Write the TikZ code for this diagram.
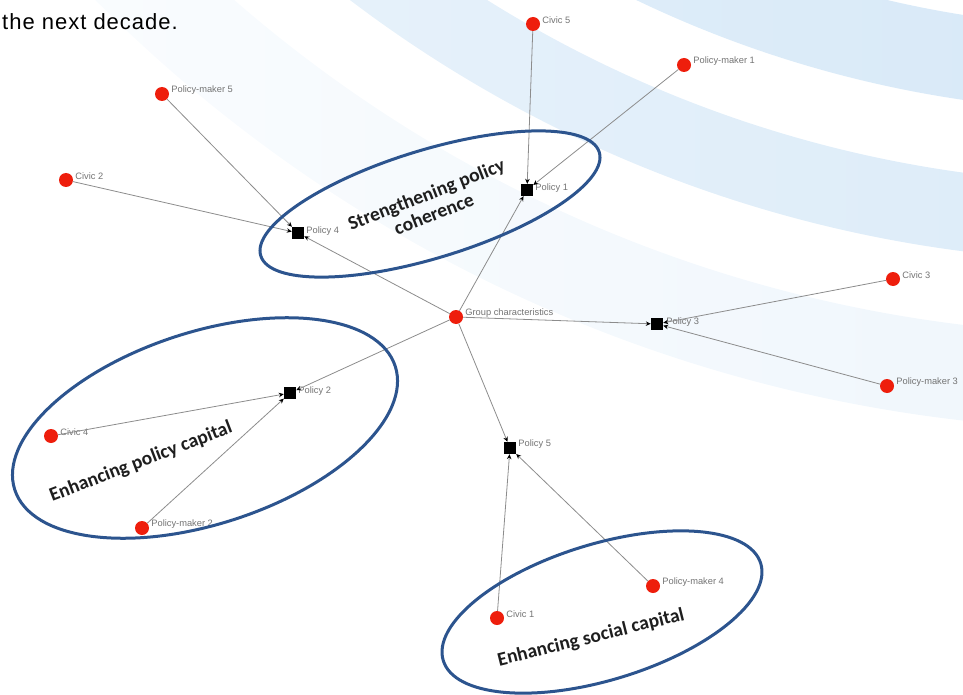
\documentclass[tikz,border=0pt]{standalone}
\usepackage{fontspec}
\setmainfont{Liberation Sans}
\newfontfamily\calibri{Carlito}
\newfontfamily\capfont{Liberation Sans}[LetterSpace=4.5]
\usetikzlibrary{positioning,arrows.meta}
\definecolor{actorc}{RGB}{238,30,12}
\definecolor{edgec}{RGB}{140,140,140}
\definecolor{ringc}{RGB}{44,84,142}
\definecolor{bandc}{RGB}{212,231,247}
\definecolor{themec}{RGB}{30,30,30}
\tikzset{
  actor/.style  = {circle, fill=actorc, inner sep=0pt, minimum size=14pt},
  policy/.style = {rectangle, fill=black, inner sep=0pt, minimum size=12pt},
  tag/.style    = {font=\fontsize{9.3}{10}\selectfont, text=black!55, inner sep=1pt},
  tie/.style    = {-{Stealth[length=5pt,width=4.5pt,color=black]}, draw=edgec, line width=0.8pt},
  ring/.style   = {draw=ringc, line width=3pt},
  theme/.style  = {font=\calibri\bfseries\fontsize{19.5}{21}\selectfont, text=themec, align=center},
}

\begin{document}
\begin{tikzpicture}[x=1pt,y=-1pt]
\useasboundingbox (0,0) rectangle (963,695);

% background swooshes
\begin{scope}
  \clip (0,0) rectangle (963,695);
  \begin{scope}[even odd rule]
    \clip (1130,-1030) circle[radius=1142pt] (1130,-1030) circle[radius=1058pt];
    \shade[left color=bandc!50, right color=bandc] (-480,0) rectangle (1443,695);
  \end{scope}
  \begin{scope}[even odd rule]
    \clip (1130,-1030) circle[radius=1292pt] (1130,-1030) circle[radius=1214pt];
    \shade[left color=bandc!35, right color=bandc!90] (-480,0) rectangle (1443,695);
  \end{scope}
  \begin{scope}[even odd rule]
    \clip (1130,-1030) circle[radius=1460pt] (1130,-1030) circle[radius=1365pt];
    \shade[left color=white, right color=bandc!45] (-480,0) rectangle (1443,695);
  \end{scope}
\end{scope}

\node[anchor=base west, font=\capfont\fontsize{22}{26}\selectfont, inner sep=0pt] (caption) at (2,30) {the next decade.};

% actors and policies
\node[actor] (c5) at (533,24) {};
\node[tag, right=1pt of c5, yshift=4pt] (c5t) {Civic 5};
\node[actor] (pm1) at (684,65) {};
\node[tag, right=1pt of pm1, yshift=4pt] (pm1t) {Policy-maker 1};
\node[actor] (pm5) at (162,94) {};
\node[tag, right=1pt of pm5, yshift=4pt] (pm5t) {Policy-maker 5};
\node[actor] (c2) at (66,180) {};
\node[tag, right=1pt of c2, yshift=4pt] (c2t) {Civic 2};
\node[policy] (p4) at (298,233) {};
\node[tag, right=1pt of p4, yshift=2pt] (p4t) {Policy 4};
\node[policy] (p1) at (527,190) {};
\node[tag, right=1pt of p1, yshift=2pt] (p1t) {Policy 1};
\node[actor] (grp) at (456,317) {};
\node[tag, right=1pt of grp, yshift=4pt] (grpt) {Group characteristics};
\node[policy] (p3) at (657,324) {};
\node[tag, right=2pt of p3, yshift=2pt] (p3t) {Policy 3};
\node[actor] (c3) at (893,279) {};
\node[tag, right=1pt of c3, yshift=4pt] (c3t) {Civic 3};
\node[actor] (pm3) at (887,386) {};
\node[tag, right=1pt of pm3, yshift=4pt] (pm3t) {Policy-maker 3};
\node[policy] (p2) at (290,393) {};
\node[tag, right=1pt of p2, yshift=2pt] (p2t) {Policy 2};
\node[actor] (c4) at (51,436) {};
\node[tag, right=1pt of c4, yshift=4pt] (c4t) {Civic 4};
\node[actor] (pm2) at (142,528) {};
\node[tag, right=1pt of pm2, yshift=4pt] (pm2t) {Policy-maker 2};
\node[policy] (p5) at (510,448) {};
\node[tag, right=1pt of p5, yshift=4pt] (p5t) {Policy 5};
\node[actor] (c1) at (497,618) {};
\node[tag, right=1pt of c1, yshift=4pt] (c1t) {Civic 1};
\node[actor] (pm4) at (653,586) {};
\node[tag, right=1pt of pm4, yshift=4pt] (pm4t) {Policy-maker 4};

% ties
\draw[tie] (c5) -- (p1);
\draw[tie] (pm1) -- (p1);
\draw[tie] (grp) -- (p1);
\draw[tie] (pm5) -- (p4);
\draw[tie] (c2) -- (p4);
\draw[tie] (grp) -- (p4);
\draw[tie] (grp) -- (p3);
\draw[tie] (c3) -- (p3);
\draw[tie] (pm3) -- (p3);
\draw[tie] (grp) -- (p2);
\draw[tie] (c4) -- (p2);
\draw[tie] (pm2) -- (p2);
\draw[tie] (grp) -- (p5);
\draw[tie] (c1) -- (p5);
\draw[tie] (pm4) -- (p5);

% theme rings
\draw[ring, rotate around={17:(430,204)}] (430,204) ellipse[x radius=177pt, y radius=54pt];
\draw[ring, rotate around={18:(205,428)}] (205,428) ellipse[x radius=200pt, y radius=96pt];
\draw[ring, rotate around={17:(602,612)}] (602,612) ellipse[x radius=166pt, y radius=68pt];

\node[theme, rotate=21.3] (coher) at (430,204) {Strengthening policy\\coherence};
\node[theme, rotate=21] (polcap) at (141,462) {Enhancing policy capital};
\node[theme, rotate=14] (soccap) at (591,638) {Enhancing social capital};

\end{tikzpicture}
\end{document}
